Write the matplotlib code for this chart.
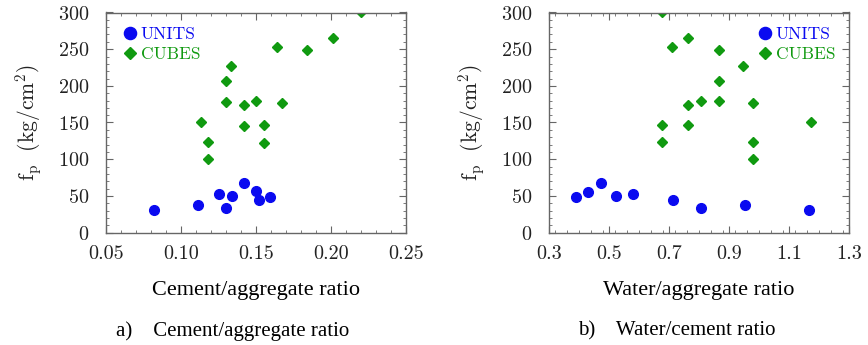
import matplotlib
matplotlib.use('Agg')
import matplotlib.pyplot as plt
from matplotlib.ticker import MultipleLocator, FixedLocator, FormatStrFormatter

plt.rcParams['font.family'] = 'cmr10'
plt.rcParams['mathtext.fontset'] = 'cm'
plt.rcParams['axes.formatter.use_mathtext'] = True

# panel a) cement/aggregate ratio
units_ca = [0.082, 0.111, 0.125, 0.130, 0.134, 0.142, 0.150, 0.152, 0.159]
units_fp_a = [31, 38, 53, 34, 50, 67, 56, 45, 48]
cubes_ca = [0.113, 0.118, 0.118, 0.130, 0.130, 0.133, 0.142, 0.142,
            0.150, 0.155, 0.155, 0.164, 0.167, 0.184, 0.201, 0.220]
cubes_fp_a = [151, 123, 100, 178, 207, 227, 174, 145,
              180, 146, 122, 253, 177, 249, 265, 300]

# panel b) water/aggregate ratio
units_wa = [0.391, 0.430, 0.472, 0.523, 0.579, 0.712, 0.808, 0.952, 1.166]
units_fp_b = [48, 55, 67, 50, 53, 45, 34, 38, 31]
cubes_wa = [0.678, 0.710, 0.764, 0.868, 0.947, 0.868, 0.764, 0.808,
            0.868, 0.980, 0.678, 0.764, 0.678, 0.980, 0.980, 1.174]
cubes_fp_b = [300, 253, 265, 249, 227, 207, 174, 180,
              179, 177, 146, 146, 123, 123, 100, 151]

ticks_a = [0.05, 0.10, 0.15, 0.20, 0.25]
ticks_b = [0.3, 0.5, 0.7, 0.9, 1.1, 1.3]

blue = '#0a0af0'
green = '#109a10'
spine = '#666666'

fig = plt.figure(figsize=(8.68, 3.45), dpi=100)
ax1 = fig.add_axes([106/868, 112.5/345, 300/868, 220/345])
ax2 = fig.add_axes([549/868, 112.5/345, 300/868, 220/345])

panels = [
    (ax1, units_ca, units_fp_a, cubes_ca, cubes_fp_a, ticks_a, 0.01, '%.2f',
     'Cement/aggregate ratio', 'upper left'),
    (ax2, units_wa, units_fp_b, cubes_wa, cubes_fp_b, ticks_b, 0.04, '%.1f',
     'Water/aggregate ratio', 'upper right'),
]

for ax, ux, uy, cx, cy, xt, xmin, fmt, xlab, loc in panels:
    ax.plot(ux, uy, 'o', color=blue, ms=7, ls='none', label='UNITS')
    ax.plot(cx, cy, 'D', color=green, ms=5, ls='none', label='CUBES')
    ax.set_xlim(xt[0], xt[-1])
    ax.set_ylim(0, 300)
    ax.xaxis.set_major_locator(FixedLocator(xt))
    ax.xaxis.set_minor_locator(MultipleLocator(xmin))
    ax.xaxis.set_major_formatter(FormatStrFormatter(fmt))
    ax.yaxis.set_major_locator(MultipleLocator(50))
    ax.yaxis.set_minor_locator(MultipleLocator(10))
    ax.tick_params(which='both', direction='in', top=True, right=True,
                   colors=spine, labelcolor='#222222', labelsize=14.5)
    ax.tick_params(which='major', length=5, width=0.8)
    ax.tick_params(which='minor', length=2.5, width=0.6)
    ax.tick_params(axis='x', which='major', pad=9)
    ax.tick_params(axis='y', which='major', pad=12)
    for s in ax.spines.values():
        s.set_color(spine)
        s.set_linewidth(1.0)
    ax.set_ylabel(r'$\mathrm{f_p}\ \ (\mathrm{kg/cm^2})$', fontsize=15.5,
                  color='#222222', labelpad=10)
    ax.set_xlabel(xlab, fontsize=16, family='Liberation Serif', labelpad=13)
    ax.legend(loc=loc, frameon=False, handletextpad=0.0, labelspacing=0.3,
              borderaxespad=0.4, prop={'size': 12.5}, labelcolor='linecolor',
              handlelength=1.2, markerscale=1.25)

fig.text(233/868, 1 - 331/345, 'a)    Cement/aggregate ratio', ha='center', va='center',
         fontsize=15, family='Liberation Serif')
fig.text(677/868, 1 - 331/345, 'b)    Water/cement ratio', ha='center', va='center',
         fontsize=15, family='Liberation Serif')

fig.savefig('out.png', dpi=100)
